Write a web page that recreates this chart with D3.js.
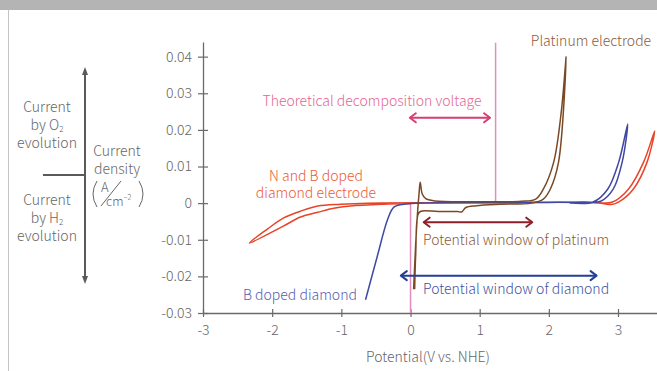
<!DOCTYPE html>
<html>
<head>
<meta charset="utf-8">
<script src="https://cdn.jsdelivr.net/npm/d3@7"></script>
<style>
  body { margin: 0; background: #fff; }
  svg { display: block; font-family: "Noto Sans CJK JP", "Noto Sans", sans-serif; font-weight: 300; }
</style>
</head>
<body>
<div id="chart"></div>
<script>
// ---- data (potential V vs NHE, current density A/cm2) ----
const xTicks = [-3, -2, -1, 0, 1, 2, 3];
const xTickLabels = ["-3", "-2", "-1", "0", "1", "2", "3"];
const yTicks = [-0.03, -0.02, -0.01, 0, 0.01, 0.02, 0.03, 0.04];
const yTickLabels = ["-0.03", "-0.02", "-0.01", "0", "0.01", "0.02", "0.03", "0.04"];

// N and B doped diamond electrode
const nbDiamond = [
  [0.0, -0.0001], [-0.39, -0.0003], [-0.87, -0.0008], [-1.11, -0.0014], [-1.34, -0.0025],
  [-1.59, -0.0038], [-1.84, -0.0063], [-2.33, -0.0109], [-2.07, -0.0071], [-1.84, -0.0041],
  [-1.59, -0.0022], [-1.34, -0.0008], [-1.01, -0.0003], [-0.62, 0.0], [0.5, 0.0001],
  [1.5, 0.0002], [2.4, 0.0002], [2.75, 0.0], [2.9, -0.0004], [3.0, 0.0002],
  [3.22, 0.0038], [3.42, 0.0112], [3.53, 0.0197], [3.37, 0.0112], [3.15, 0.0038],
  [2.92, 0.0003], [2.7, 0.0001], [2.3, 0.0001]
];
// B doped diamond
const bDiamond = [
  [-0.65, -0.0264], [-0.48, -0.0145], [-0.33, -0.0044], [-0.24, -0.0011], [-0.1, -0.0003],
  [0.1, 0.0], [1.0, 0.0001], [2.0, 0.0002], [2.5, 0.0003], [2.75, 0.0005],
  [2.93, 0.0038], [3.06, 0.0112], [3.14, 0.0216], [3.01, 0.0112], [2.85, 0.0038],
  [2.64, 0.0003], [2.3, 0.0001]
];
// Platinum electrode
const platinum = [
  [0.045, -0.0235], [0.09, -0.006], [0.125, 0.003], [0.14, 0.0057], [0.17, 0.0025],
  [0.22, 0.0012], [0.35, 0.0006], [1.0, 0.0004], [1.6, 0.0005], [1.81, 0.0011],
  [1.92, 0.0038], [2.07, 0.0112], [2.18, 0.025], [2.25, 0.040], [2.14, 0.0112],
  [2.02, 0.0038], [1.92, 0.0011], [1.75, 0.0], [1.3, -0.0003], [0.95, -0.0007],
  [0.8, -0.0012], [0.74, -0.0024], [0.68, -0.0023], [0.4, -0.0023], [0.15, -0.0022],
  [0.11, -0.003], [0.075, -0.014], [0.06, -0.0235]
];
const decompVoltage = 1.23;

const W = 657, H = 371;
const fs = 14;
const svg = d3.select("#chart").append("svg").attr("width", W).attr("height", H);

// header band + frame line
svg.append("rect").attr("x", 0).attr("y", 0).attr("width", W).attr("height", 10).attr("fill", "#b4b4b4");
svg.append("line").attr("x1", 8.5).attr("x2", 8.5).attr("y1", 10).attr("y2", H)
  .attr("stroke", "#c4c4c4").attr("stroke-width", 1);

const x = d3.scaleLinear().domain([-3, 3.63]).range([203, 661.6]);
const y = d3.scaleLinear().domain([-0.03, 0.044]).range([313, 42]);

const axisColor = "#6a6a6a", textColor = "#666";

// axes
const gx = svg.append("g").attr("transform", `translate(0,${y(-0.03)})`)
  .call(d3.axisBottom(x).tickValues(xTicks).tickSizeOuter(0).tickFormat((d, i) => xTickLabels[i]));
gx.selectAll(".tick line").attr("y1", -4).attr("y2", 4);
gx.selectAll(".tick text").attr("y", 18).attr("dy", "0.32em");

const gy = svg.append("g").attr("transform", `translate(${x(-3)},0)`)
  .call(d3.axisLeft(y).tickValues(yTicks).tickSizeOuter(0).tickFormat((d, i) => yTickLabels[i]));
gy.selectAll(".tick line").attr("x1", -5).attr("x2", 5);
gy.selectAll(".tick text").attr("x", -11);

[gx, gy].forEach(g => {
  g.select(".domain").attr("stroke", axisColor).attr("stroke-width", 1.3);
  g.selectAll(".tick line").attr("stroke", axisColor).attr("stroke-width", 1.2);
  g.selectAll(".tick text").attr("fill", textColor).attr("font-size", fs)
    .attr("font-family", '"Noto Sans CJK JP", "Noto Sans", sans-serif').attr("font-weight", 300);
});

svg.append("text").attr("x", 428).attr("y", 362).attr("text-anchor", "middle")
  .attr("fill", textColor).attr("font-size", fs).text("Potential(V vs. NHE)");

// pink reference lines
const pink = "#e48cbf";
svg.append("line").attr("x1", x(0)).attr("x2", x(0)).attr("y1", y(0)).attr("y2", y(-0.03))
  .attr("stroke", pink).attr("stroke-width", 1.5);
svg.append("line").attr("x1", x(decompVoltage)).attr("x2", x(decompVoltage)).attr("y1", y(0.0438)).attr("y2", y(0))
  .attr("stroke", pink).attr("stroke-width", 1.5);

// curves
const line = d3.line().x(d => x(d[0])).y(d => y(d[1])).curve(d3.curveCatmullRom.alpha(0.5));
const curves = [
  { data: nbDiamond, color: "#e8442a" },
  { data: bDiamond, color: "#3f48a3" },
  { data: platinum, color: "#7a4824" }
];
svg.selectAll("path.curve").data(curves).enter().append("path")
  .attr("class", "curve").attr("d", d => line(d.data))
  .attr("fill", "none").attr("stroke", d => d.color).attr("stroke-width", 1.5)
  .attr("stroke-linejoin", "round");

// double arrows
function dblArrow(x1, x2, yy, color) {
  const g = svg.append("g").attr("stroke", color).attr("stroke-width", 2).attr("fill", "none")
    .attr("stroke-linecap", "round").attr("stroke-linejoin", "round");
  g.append("line").attr("x1", x1 + 1).attr("x2", x2 - 1).attr("y1", yy).attr("y2", yy);
  g.append("path").attr("d", `M${x1 + 6},${yy - 4.5}L${x1},${yy}L${x1 + 6},${yy + 4.5}`);
  g.append("path").attr("d", `M${x2 - 6},${yy - 4.5}L${x2},${yy}L${x2 - 6},${yy + 4.5}`);
}
dblArrow(x(-0.01), x(1.15), y(0.0233), "#d93d72");
dblArrow(x(0.19), x(1.76), y(-0.0052), "#8e1f28");
dblArrow(x(-0.14), x(2.69), y(-0.0198), "#233f97");

// labels
function label(tx, ty, str, color, anchor) {
  svg.append("text").attr("x", tx).attr("y", ty).attr("fill", color)
    .attr("font-size", fs).attr("text-anchor", anchor || "start").text(str);
}
label(372, 106, "Theoretical decomposition voltage", "#e46692", "middle");
label(591, 46, "Platinum electrode", "#8a5a3a", "middle");
label(316, 181, "N and B doped", "#ec5a3a", "middle");
label(316, 198, "diamond electrode", "#ec5a3a", "middle");
label(423, 245, "Potential window of platinum", "#8a5a3a");
label(423, 294, "Potential window of diamond", "#3e52a4");
label(243, 300, "B doped diamond", "#5461ae");

// left annotation
const annC = "#5a5a5a";
svg.append("line").attr("x1", 85).attr("x2", 85).attr("y1", 70).attr("y2", 281)
  .attr("stroke", annC).attr("stroke-width", 2);
svg.append("path").attr("d", "M85,67L82,75L88,75Z").attr("fill", annC);
svg.append("path").attr("d", "M85,284L82,276L88,276Z").attr("fill", annC);
svg.append("line").attr("x1", 43).attr("x2", 85).attr("y1", 175).attr("y2", 175)
  .attr("stroke", annC).attr("stroke-width", 2);

function stack(cx, lines, y0) {
  lines.forEach((l, i) => {
    const t = svg.append("text").attr("x", cx).attr("y", y0 + i * 18).attr("text-anchor", "middle")
      .attr("fill", textColor).attr("font-size", fs);
    t.append("tspan").text(l[0]);
    if (l[1]) t.append("tspan").attr("font-size", 8).attr("dy", 2).text(l[1]);
  });
}
stack(47, [["Current"], ["by O", "2"], ["evolution"]], 112);
stack(47, [["Current"], ["by H", "2"], ["evolution"]], 205);
stack(117, [["Current"], ["density"]], 156);

// (A / cm-2)
const fr = svg.append("g").attr("fill", "none").attr("stroke", textColor).attr("stroke-width", 1);
fr.append("path").attr("d", "M97,181Q89,194 97,207");
fr.append("path").attr("d", "M139,181Q147,194 139,207");
fr.append("line").attr("x1", 101).attr("y1", 206).attr("x2", 121).attr("y2", 181);
svg.append("text").attr("x", 101).attr("y", 192).attr("fill", textColor).attr("font-size", 13).text("A");
const cm = svg.append("text").attr("x", 106).attr("y", 206).attr("fill", textColor).attr("font-size", 12.5);
cm.append("tspan").text("cm");
cm.append("tspan").attr("font-size", 7.5).attr("dy", -6).text("−2");
</script>
</body>
</html>
